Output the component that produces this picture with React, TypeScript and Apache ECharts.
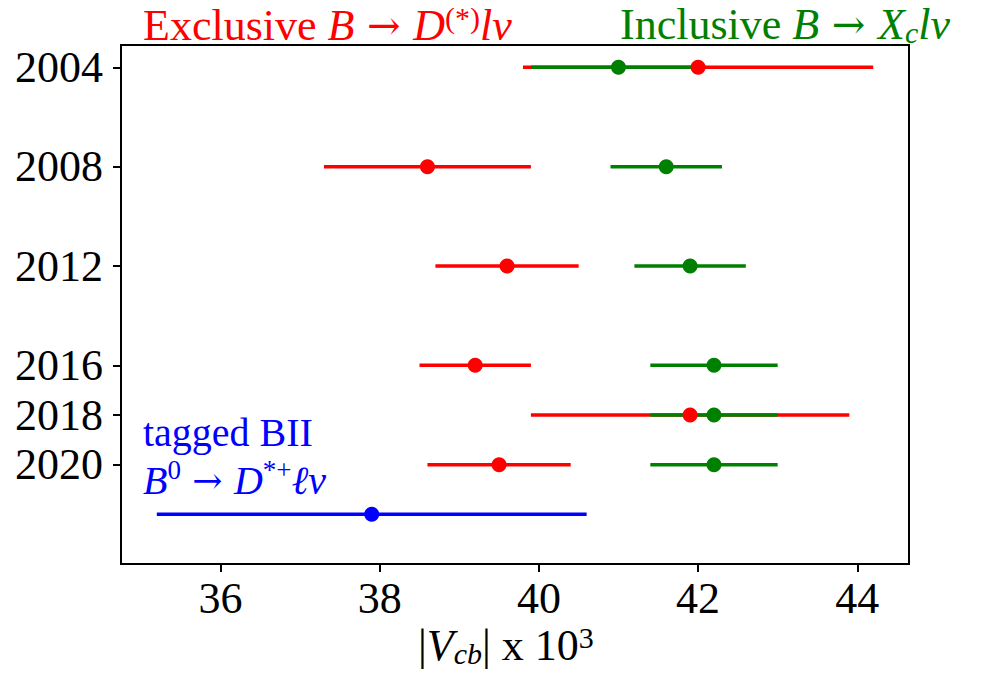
import React, { useEffect, useRef } from "react";
import * as echarts from "echarts";

const years = [2004, 2008, 2012, 2016, 2018, 2020];
const exclusiveVcb = [42.0, 38.6, 39.6, 39.2, 41.9, 39.5];
const exclusiveErr = [2.2, 1.3, 0.9, 0.7, 2.0, 0.9];
const inclusiveVcb = [41.0, 41.6, 41.9, 42.2, 42.2, 42.2];
const inclusiveErr = [1.1, 0.7, 0.7, 0.8, 0.8, 0.8];
const taggedRow = [2022];
const taggedVcb = [37.9];
const taggedErr = [2.7];
const xTicks = [36, 38, 40, 42, 44];
const yTicks = [2004, 2008, 2012, 2016, 2018, 2020];

const RED = "#ff0000";
const GREEN = "#008000";
const BLUE = "#0000ff";
const FONT = "'Liberation Serif', 'DejaVu Serif', serif";

function errData(rows: number[], vals: number[], errs: number[]) {
  return rows.map((r, i) => [vals[i] - errs[i], vals[i] + errs[i], r]);
}
function ptData(rows: number[], vals: number[]) {
  return rows.map((r, i) => [vals[i], r]);
}

function errSeries(data: number[][], color: string) {
  return {
    type: "custom",
    z: 1,
    data,
    encode: { x: [0, 1], y: 2 },
    renderItem: (params: any, api: any) => {
      const a = api.coord([api.value(0), api.value(2)]);
      const b = api.coord([api.value(1), api.value(2)]);
      return {
        type: "line",
        shape: { x1: a[0], y1: a[1], x2: b[0], y2: b[1] },
        style: { stroke: color, lineWidth: 3.5 },
      };
    },
  };
}

function ptSeries(data: number[][], color: string) {
  return {
    type: "scatter",
    z: 3,
    data,
    symbol: "circle",
    symbolSize: 15,
    itemStyle: { color, opacity: 1 },
  };
}

const richBase = (color: string, size: number, lhFactor = 1.05) => {
  const lh = Math.round(size * lhFactor);
  const small = Math.round(size * 0.68);
  return {
    n: { fontFamily: FONT, fontSize: size, fill: color, lineHeight: lh },
    ar: { fontFamily: "'DejaVu Serif', serif", fontSize: Math.round(size * 0.9), fill: color, lineHeight: lh },
    i: { fontFamily: FONT, fontSize: size, fill: color, fontStyle: "italic", lineHeight: lh },
    sup: { fontFamily: FONT, fontSize: small, fill: color, lineHeight: small, verticalAlign: "top" },
    sub: { fontFamily: FONT, fontSize: small, fill: color, fontStyle: "italic", lineHeight: small, verticalAlign: "bottom" },
  };
};

export default function App() {
  const ref = useRef<HTMLDivElement>(null);
  useEffect(() => {
    if (!ref.current) return;
    const chart = echarts.init(ref.current, null, { renderer: "svg" });
    const option: any = {
      animation: false,
      backgroundColor: "#ffffff",
      grid: { left: 121, right: 72, top: 45, bottom: 120, show: true, borderColor: "#000", borderWidth: 2, backgroundColor: "transparent" },
      xAxis: {
        type: "value",
        min: 34.75,
        max: 44.65,
        splitLine: { show: false },
        axisLine: { show: true, lineStyle: { color: "#000", width: 2 } },
        axisTick: { show: true, length: 8, lineStyle: { color: "#000", width: 2 }, customValues: xTicks },
        axisLabel: { customValues: xTicks, color: "#000", fontFamily: FONT, fontSize: 44, margin: 12, formatter: (v: number) => String(v) },
      },
      yAxis: {
        type: "value",
        inverse: true,
        min: 2003.1,
        max: 2024,
        splitLine: { show: false },
        axisLine: { show: true, lineStyle: { color: "#000", width: 2 } },
        axisTick: { show: true, length: 8, lineStyle: { color: "#000", width: 2 }, customValues: yTicks },
        axisLabel: { customValues: yTicks, color: "#000", fontFamily: FONT, fontSize: 44, margin: 18, formatter: (v: number) => String(v) },
      },
      graphic: [
        {
          type: "text",
          left: 143,
          top: 2,
          style: {
            text: "{n|Exclusive }{i|B}{ar| → }{i|D}{sup|(*)}{i|lν}",
            rich: richBase(RED, 44),
          },
        },
        {
          type: "text",
          left: 620,
          top: 2,
          style: {
            text: "{n|Inclusive }{i|B}{ar| → }{i|X}{sub|c}{i|lν}",
            rich: richBase(GREEN, 44),
          },
        },
        {
          type: "text",
          left: 143,
          top: 412,
          style: {
            text: "{n|tagged BII}\n{i|B}{sup|0}{ar| → }{i|D}{sup|*+}{i|ℓν}",
            rich: richBase(BLUE, 40, 1.2),
          },
        },
        {
          type: "text",
          left: 418,
          top: 622,
          style: {
            text: "{n||}{i|V}{sub|cb}{n|| x 10}{sup|3}",
            rich: richBase("#000", 44),
          },
        },
      ],
      series: [
        errSeries(errData(years, exclusiveVcb, exclusiveErr), RED),
        errSeries(errData(years, inclusiveVcb, inclusiveErr), GREEN),
        errSeries(errData(taggedRow, taggedVcb, taggedErr), BLUE),
        ptSeries(ptData(years, exclusiveVcb), RED),
        ptSeries(ptData(years, inclusiveVcb), GREEN),
        ptSeries(ptData(taggedRow, taggedVcb), BLUE),
      ],
    };
    chart.setOption(option);
    return () => chart.dispose();
  }, []);
  return <div ref={ref} style={{ width: 981, height: 684, margin: -8 }} />;
}
